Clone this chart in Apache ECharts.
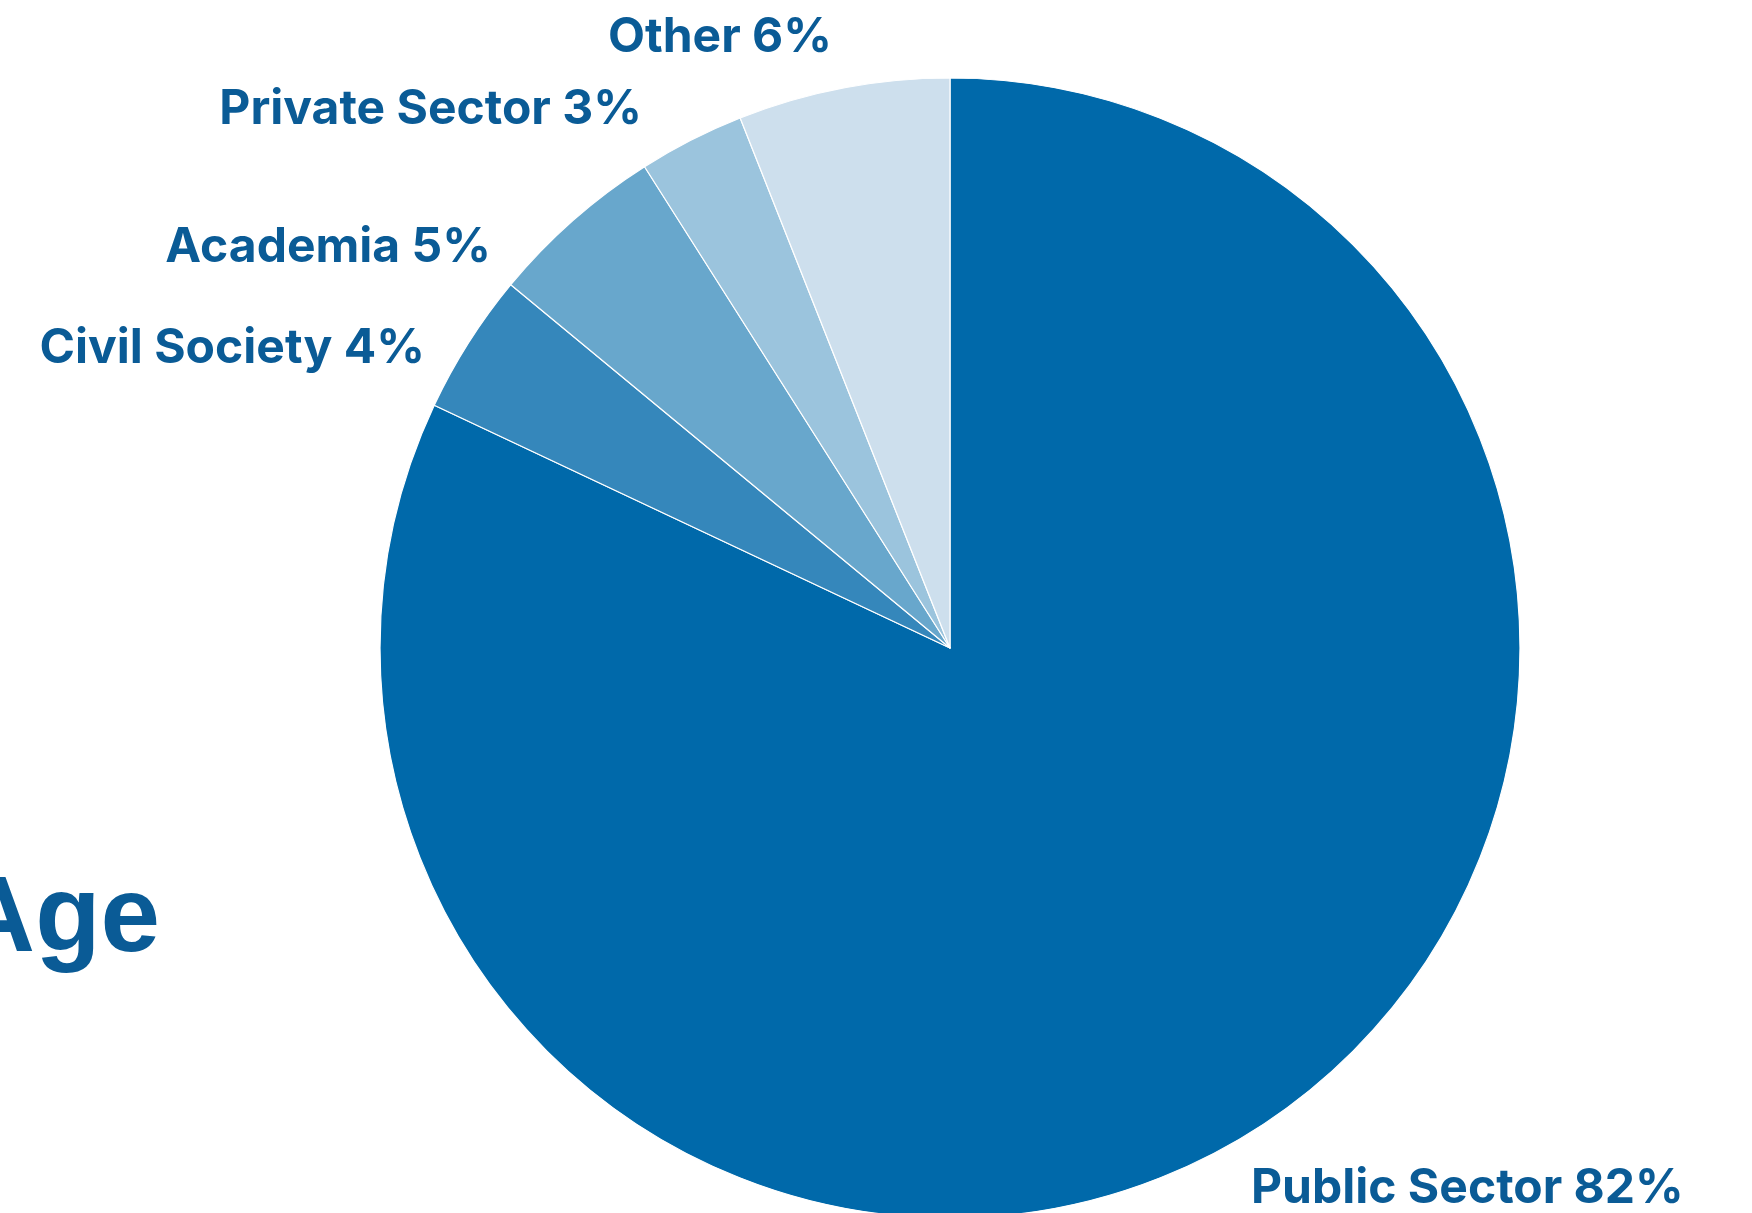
<!DOCTYPE html>
<html>
<head>
<meta charset="utf-8">
<title>Sector share</title>
<script src="https://cdn.jsdelivr.net/npm/echarts@6/dist/echarts.min.js"></script>
<style>
  html, body { margin: 0; padding: 0; background: #ffffff; }
  #chart { width: 1752px; height: 1213px; }
</style>
</head>
<body>
<div id="chart"></div>
<script>
// Sectors, listed clockwise from twelve o'clock
const sectors = ['Public Sector', 'Civil Society', 'Academia', 'Private Sector', 'Other'];
const shares = [82, 4, 5, 3, 6];
const sliceColors = ['#0069aa', '#3587bb', '#68a7cc', '#9bc4dd', '#cddfed'];

// Where each label sits: [x, y, align]
const labelAnchors = [
  [1251, 1189, 'left'],
  [425, 349, 'right'],
  [491, 248, 'right'],
  [642, 110, 'right'],
  [832, 38, 'right']
];

const textColor = '#0a5b96';

const chart = echarts.init(document.getElementById('chart'), null, { renderer: 'canvas' });

chart.setOption({
  animation: false,
  backgroundColor: '#ffffff',
  graphic: [{
    type: 'text',
    right: 1752 - 160,
    top: 868,
    style: {
      text: 'Age',
      fill: textColor,
      font: 'bold 107px "Liberation Sans", Arial, sans-serif'
    }
  }],
  series: [{
    type: 'pie',
    center: [950, 648],
    radius: 570,
    startAngle: 90,
    clockwise: true,
    avoidLabelOverlap: false,
    silent: true,
    itemStyle: { borderColor: '#ffffff', borderWidth: 1.2 },
    label: {
      show: true,
      position: 'outside',
      formatter: '{b} {c}%',
      color: textColor,
      fontFamily: 'Inter',
      fontWeight: 'bold',
      fontSize: 48
    },
    labelLine: { show: false },
    labelLayout: function (p) {
      const a = labelAnchors[p.dataIndex];
      return { x: a[0], y: a[1], align: a[2], verticalAlign: 'middle' };
    },
    data: sectors.map((name, i) => ({
      name: name,
      value: shares[i],
      itemStyle: { color: sliceColors[i] }
    }))
  }]
});
</script>
</body>
</html>
